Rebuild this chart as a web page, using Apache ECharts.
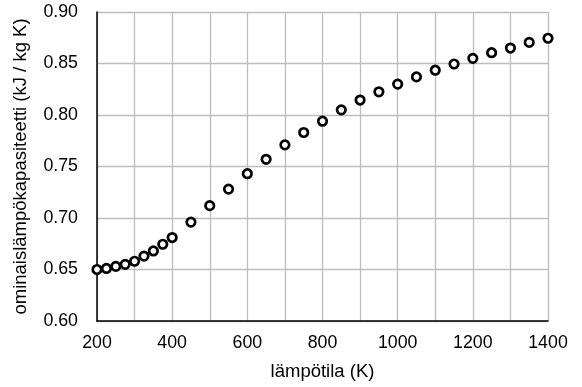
<!DOCTYPE html>
<html><head><meta charset="utf-8">
<script src="https://cdn.jsdelivr.net/npm/echarts@6/dist/echarts.min.js"></script>
<style>html,body{margin:0;padding:0;background:#fff}#c{width:582px;height:387px}</style>
</head><body><div id="c"></div>
<script>
const temperatures = [200,225,250,275,300,325,350,375,400,450,500,550,600,650,700,750,800,850,900,950,1000,1050,1100,1150,1200,1250,1300,1350,1400];
const heatCapacity = [0.650,0.651,0.653,0.655,0.658,0.663,0.668,0.6745,0.681,0.696,0.712,0.728,0.743,0.757,0.771,0.783,0.794,0.805,0.8145,0.8225,0.830,0.837,0.8435,0.8495,0.855,0.8605,0.865,0.8705,0.8745];
const xTitle = 'lämpötila (K)';
const yTitle = 'ominaislämpökapasiteetti (kJ / kg K)';
const font = "'Liberation Sans', Arial, sans-serif";
const chart = echarts.init(document.getElementById('c'), null, {renderer:'canvas'});
chart.setOption({
  animation:false,
  textStyle:{fontFamily:font},
  grid:{left:97,right:34,top:12,bottom:66,containLabel:false},
  xAxis:{type:'value',min:200,max:1400,interval:200,
    name:xTitle,nameLocation:'middle',nameGap:41,
    nameTextStyle:{fontFamily:font,fontSize:18.5,color:'#000'},
    axisLine:{show:true,lineStyle:{color:'#000',width:1.5}},
    axisTick:{show:false},
    axisLabel:{fontFamily:font,fontSize:17.8,color:'#000',margin:13,formatter:v=>String(v)},
    splitLine:{show:true,lineStyle:{color:'#bdbdbd',width:1.3}},
    minorTick:{show:false,splitNumber:2},
    minorSplitLine:{show:true,lineStyle:{color:'#bdbdbd',width:1.3}}
  },
  yAxis:{type:'value',min:0.6,max:0.9,interval:0.05,
    name:yTitle,nameLocation:'middle',nameGap:67,
    nameTextStyle:{fontFamily:font,fontSize:18.5,color:'#000'},
    axisLine:{show:true,lineStyle:{color:'#000',width:1.5}},
    axisTick:{show:false},
    axisLabel:{fontFamily:font,fontSize:17.8,color:'#000',margin:19,formatter:v=>v.toFixed(2)},
    splitLine:{show:true,lineStyle:{color:'#bdbdbd',width:1.3}}
  },
  series:[{type:'scatter',data:temperatures.map((t,i)=>[t,heatCapacity[i]]),
    symbol:'circle',symbolSize:8.5,
    itemStyle:{color:'#fff',borderColor:'#000',borderWidth:2.7,opacity:1},
    z:5
  }]
});
</script></body></html>
